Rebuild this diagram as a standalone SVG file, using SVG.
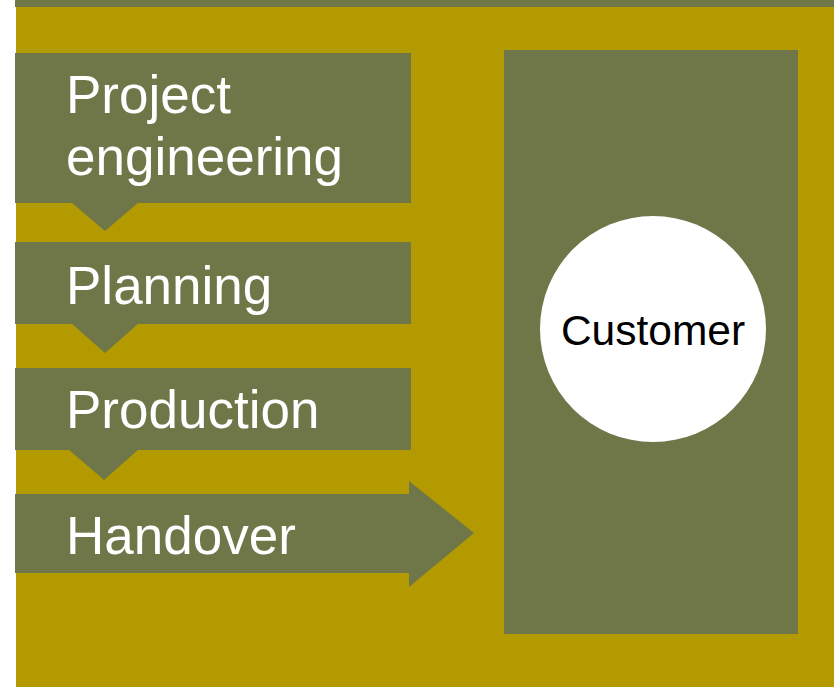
<svg xmlns="http://www.w3.org/2000/svg" width="834" height="687" viewBox="0 0 834 687">
<style>
.bg{fill:#B29A00}
.dk{fill:#6F7749}
.lbl{font-family:"Liberation Sans",Arial,sans-serif;font-size:53px;fill:#FFFFFF}
.cust{font-family:"Liberation Sans",Arial,sans-serif;font-size:42.5px;fill:#000000;text-anchor:middle}
</style>
<rect x="0" y="0" width="834" height="687" fill="#FFFFFF"/>
<rect class="bg" x="16" y="7" width="818" height="680"/>
<rect class="dk" x="15" y="0" width="819" height="7"/>
<g id="customer-panel">
<rect class="dk" x="504" y="50" width="294" height="584"/>
</g>
<g id="customer">
<circle cx="653" cy="329" r="113" fill="#FFFFFF"/>
<text class="cust" x="653" y="345">Customer</text>
</g>
<g id="project-engineering">
<rect class="dk" x="15" y="53" width="396" height="150"/>
<text class="lbl" x="66" y="113">Project</text>
<text class="lbl" x="66" y="175">engineering</text>
</g>
<g id="planning">
<rect class="dk" x="15" y="242" width="396" height="82"/>
<text class="lbl" x="66" y="304">Planning</text>
</g>
<g id="production">
<rect class="dk" x="15" y="368" width="396" height="82"/>
<text class="lbl" x="66" y="428">Production</text>
</g>
<g id="handover">
<polygon class="dk" points="15,494 409,494 409,481 474,533 409,587 409,573 15,573"/>
<text class="lbl" x="66" y="554">Handover</text>
</g>
<g id="connectors">
<polygon class="dk" points="71,202 139,202 105,231"/>
<polygon class="dk" points="71,323 139,323 105,353"/>
<polygon class="dk" points="68,449 139,449 104,480"/>
</g>
</svg>
